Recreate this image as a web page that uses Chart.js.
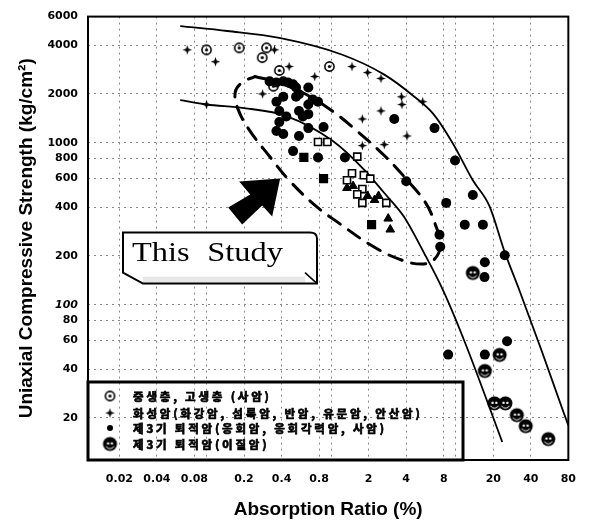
<!DOCTYPE html>
<html>
<head>
<meta charset="utf-8">
<script src="https://cdn.jsdelivr.net/npm/chart.js@4.4.1/dist/chart.umd.min.js"></script>
<style>
  html, body { margin: 0; padding: 0; background: #fff; }
  canvas { display: block; }
</style>
</head>
<body>
<canvas id="chart" width="589" height="521"></canvas>
<script>
// ---- axis ticks ----
const xTickValues = [0.02, 0.04, 0.08, 0.1, 0.2, 0.4, 0.8, 1, 2, 4, 8, 10, 20, 40, 80];
const xTickLabels = ['0.02', '0.04', '0.08', '', '0.2', '0.4', '0.8', '', '2', '4', '8', '', '20', '40', '80'];
const yTickValues = [20, 40, 60, 80, 100, 200, 400, 600, 800, 1000, 2000, 4000, 6000];

// ---- series names ----
const seriesNames = [
  '중생층, 고생층 (사암)',
  '화성암(화강암, 섬록암, 반암, 유문암, 안산암)',
  '제3기 퇴적암(응회암, 응회각력암, 사암)',
  '제3기 퇴적암(이질암)'
];

// 중생층, 고생층 (사암): absorption (%), strength (kg/cm2)
const mesoX = [0.100, 0.183, 0.303, 0.28, 0.384, 0.344, 0.968];
const mesoY = [3740, 3850, 3850, 3350, 2790, 2230, 2950];

// 화성암
const igneousX = [0.070, 0.118, 0.351, 0.46, 0.282, 0.100, 0.738, 1.47, 1.96, 2.51, 3.67, 3.7, 5.42, 2.51, 1.78, 4.06, 2.67, 1.78];
const igneousY = [3740, 3160, 3740, 2950, 2000, 1720, 2560, 2950, 2710, 2490, 1920, 1720, 1790, 1570, 1400, 1100, 973, 959];

// 제3기 퇴적암 (응회암, 응회각력암, 사암)
const tuffX = [0.321, 0.364, 0.413, 0.452, 0.495, 0.523, 0.656, 0.364, 0.413, 0.523, 0.552, 0.656, 0.711, 0.785,
               0.384, 0.437, 0.552, 0.593, 0.656, 0.384, 0.364, 0.413, 0.552, 0.656, 0.869, 0.495, 0.785, 1.29,
               3.21, 6.75, 9.86, 4.0, 13.7, 8.38, 11.8, 16.5, 7.4, 7.5, 24.7, 17.1, 17.0, 25.8, 8.69, 17.1];
const tuffY = [2390, 2350, 2390, 2350, 2290, 2190, 2190, 1790, 1920, 1920, 1990, 1720, 1850, 1790,
               1570, 1450, 1570, 1450, 1500, 1340, 1180, 1130, 1100, 1230, 1250, 887, 811, 811,
               1400, 1230, 776, 578, 475, 425, 312, 312, 270, 228, 202, 183, 148, 59.5, 49.2, 49.2];

// 제3기 퇴적암 (이질암)
const mudX = [13.7, 22.5, 17.1, 20.4, 25.0, 30.9, 36.4, 55.2];
const mudY = [157, 49, 39, 24.6, 24.6, 20.8, 17.8, 14.8];

// test specimens: open squares, triangles, solid squares
const openSqX = [0.785, 0.933, 1.62, 1.47, 1.83, 2.06, 1.34, 1.78, 1.62, 1.78, 2.77];
const openSqY = [1010, 1010, 820, 647, 630, 600, 586, 517, 480, 425, 425];
const triX = [1.34, 1.50, 1.96, 2.23, 2.40, 2.87, 2.98];
const triY = [525, 540, 469, 443, 469, 340, 291];
const solidSqX = [0.604, 0.869, 2.11];
const solidSqY = [811, 600, 312];

// envelope curves
const upperX = [0.0615, 0.147, 0.384, 1.23, 2.67, 4.6, 6.62, 9.5, 13.7, 18.6, 24.7, 32.1, 48.6, 73.8, 80];
const upperY = [5240, 4890, 4430, 3490, 2630, 1935, 1500, 986, 586, 407, 211, 125, 52.5, 21.3, 18];
const lowerX = [0.0615, 0.100, 0.200, 0.437, 1.02, 1.86, 2.67, 3.84, 5.52, 7.93, 12.0, 23.6];
const lowerY = [1830, 1720, 1635, 1460, 1030, 675, 489, 349, 211, 122, 57, 14.2];

// dashed outline of the study range (closed loop)
const zoneX = [0.244, 0.378, 0.627, 1.02, 1.64, 2.67, 3.98, 5.73, 6.86, 7.52, 6.75, 5.32, 3.51, 2.11, 1.14, 0.752, 0.46, 0.321, 0.223, 0.179, 0.170, 0.193, 0.244];
const zoneY = [2560, 2350, 1990, 1570, 1167, 833, 600, 425, 312, 235, 191, 178, 191, 232, 321, 407, 586, 822, 1183, 1611, 2046, 2350, 2560];

const studyLabel = 'This Study';

// ---- marker symbols ----
function makeSymbol(size, draw) {
  const c = document.createElement('canvas');
  c.width = size; c.height = size;
  const g = c.getContext('2d');
  g.translate(size / 2, size / 2);
  draw(g);
  return c;
}
const dotCircle = makeSymbol(13, g => {
  g.strokeStyle = '#000'; g.lineWidth = 1.6;
  g.beginPath(); g.arc(0, 0, 4.6, 0, Math.PI * 2); g.stroke();
  g.fillStyle = '#000';
  g.beginPath(); g.arc(0, 0, 1.6, 0, Math.PI * 2); g.fill();
});
const star4 = makeSymbol(11, g => {
  g.fillStyle = '#000';
  g.beginPath();
  for (let i = 0; i < 8; i++) {
    const ang = i * Math.PI / 4 - Math.PI / 2;
    const rad = i % 2 === 0 ? 4.8 : 1.7;
    g.lineTo(rad * Math.cos(ang), rad * Math.sin(ang));
  }
  g.closePath(); g.fill();
});
const faceCircle = makeSymbol(17, g => {
  g.fillStyle = '#000';
  g.beginPath(); g.arc(0, 0, 7, 0, Math.PI * 2); g.fill();
  g.strokeStyle = '#fff'; g.lineWidth = 1;
  g.beginPath(); g.arc(0, 0.3, 4.4, 0.15 * Math.PI, 0.85 * Math.PI); g.stroke();
  g.fillStyle = '#fff';
  g.beginPath(); g.arc(-1.9, -0.6, 1.2, 0, Math.PI * 2); g.fill();
  g.beginPath(); g.arc(1.9, -0.6, 1.2, 0, Math.PI * 2); g.fill();
});

const pts = (xs, ys) => xs.map((x, i) => ({ x, y: ys[i] }));

// ---- frame, legend box, label box and arrow ----
const overlay = {
  id: 'overlay',
  afterDatasetsDraw(chart) {
    const { ctx, chartArea: a, scales } = chart;
    const P = (px, py) => [a.left + px, a.top + py]; // offsets inside the plot area
    ctx.save();

    // plot frame
    ctx.strokeStyle = '#000';
    ctx.lineWidth = 2;
    ctx.strokeRect(a.left, a.top, a.right - a.left, a.bottom - a.top);

    // legend box
    const lgL = a.left, lgR = a.left + 375, lgT = a.bottom - 78, lgB = a.bottom;
    ctx.lineWidth = 3;
    ctx.strokeRect(lgL, lgT, lgR - lgL, lgB - lgT);
    const rows = [lgT + 14, lgT + 31, lgT + 46, lgT + 62];
    const symX = lgL + 22;
    ctx.drawImage(dotCircle, symX - 6.5, rows[0] - 6.5);
    ctx.drawImage(star4, symX - 5.5, rows[1] - 5.5);
    ctx.fillStyle = '#000';
    ctx.beginPath(); ctx.arc(symX, rows[2], 3, 0, Math.PI * 2); ctx.fill();
    ctx.drawImage(faceCircle, symX - 8.5, rows[3] - 8.5);
    ctx.font = 'bold 11.5px "Noto Sans CJK KR", sans-serif';
    ctx.textBaseline = 'middle';
    ctx.textAlign = 'left';
    ctx.strokeStyle = '#000';
    ctx.lineWidth = 0.7;
    if ('letterSpacing' in ctx) ctx.letterSpacing = '2.8px';
    seriesNames.forEach((t, i) => {
      ctx.fillText(t, lgL + 45, rows[i] + 1);
      ctx.strokeText(t, lgL + 45, rows[i] + 1);
    });
    if ('letterSpacing' in ctx) ctx.letterSpacing = '0px';

    // "This Study" label box
    const [bl, bt] = P(35, 216);
    const bw = 194, bh = 51;
    ctx.beginPath();
    ctx.moveTo(bl, bt);
    ctx.lineTo(bl + bw - 7, bt);
    ctx.quadraticCurveTo(bl + bw, bt, bl + bw, bt + 6);
    ctx.lineTo(bl + bw, bt + bh);
    ctx.lineTo(bl + 20, bt + bh);
    ctx.lineTo(bl, bt + bh - 11);
    ctx.closePath();
    ctx.fillStyle = '#fff';
    ctx.fill();
    ctx.fillStyle = 'rgba(150,150,150,0.22)';
    ctx.fillRect(bl + 20, bt + bh - 7, bw - 32, 6);
    ctx.lineWidth = 2;
    ctx.strokeStyle = '#000';
    ctx.stroke();
    ctx.lineWidth = 1.5;
    ctx.beginPath();
    ctx.moveTo(bl + bw - 12, bt + bh - 11);
    ctx.lineTo(bl + bw - 1, bt + bh - 1);
    ctx.stroke();

    ctx.save();
    ctx.fillStyle = '#000';
    ctx.font = '27px "Liberation Serif", "Times New Roman", serif';
    ctx.textBaseline = 'alphabetic';
    ctx.translate(bl + 9, bt + 28);
    ctx.scale(1.2, 1);
    if ('wordSpacing' in ctx) ctx.wordSpacing = '8px';
    ctx.fillText(studyLabel, 0, 0);
    ctx.restore();

    // arrow pointing at the study range
    const tipX = scales.x.getPixelForValue(0.39);
    const tipY = scales.y.getPixelForValue(600);
    const arrow = [[0, 0], [-41, 3], [-30, 16], [-52, 29], [-38, 46], [-18, 27], [-8, 38]];
    ctx.fillStyle = '#000';
    ctx.beginPath();
    arrow.forEach(([dx, dy], i) => (i ? ctx.lineTo : ctx.moveTo).call(ctx, tipX + dx, tipY + dy));
    ctx.closePath();
    ctx.fill();

    ctx.restore();
  }
};

const tickFont = { family: '"DejaVu Sans", sans-serif', size: 11, weight: 'bold' };

new Chart(document.getElementById('chart'), {
  type: 'scatter',
  data: {
    datasets: [
      { label: seriesNames[0], data: pts(mesoX, mesoY), pointStyle: dotCircle, pointRadius: 5, order: 1 },
      { label: seriesNames[1], data: pts(igneousX, igneousY), pointStyle: star4, pointRadius: 5, order: 2 },
      { label: seriesNames[2], data: pts(tuffX, tuffY), pointStyle: 'circle', pointRadius: 5,
        backgroundColor: '#000', borderColor: '#000', borderWidth: 0, order: 3 },
      { label: seriesNames[3], data: pts(mudX, mudY), pointStyle: faceCircle, pointRadius: 7, order: 0 },
      { label: 'open square', data: pts(openSqX, openSqY), pointStyle: 'rect', pointRadius: 5,
        backgroundColor: '#fff', borderColor: '#000', borderWidth: 1.6, order: 4 },
      { label: 'triangle', data: pts(triX, triY), pointStyle: 'triangle', pointRadius: 5,
        backgroundColor: '#000', borderColor: '#000', borderWidth: 1, order: 5 },
      { label: 'solid square', data: pts(solidSqX, solidSqY), pointStyle: 'rect', pointRadius: 6.5,
        backgroundColor: '#000', borderColor: '#000', borderWidth: 0, order: 5 },
      { label: 'upper envelope', data: pts(upperX, upperY), showLine: true, pointRadius: 0,
        borderColor: '#000', borderWidth: 1.8, cubicInterpolationMode: 'monotone', order: 9 },
      { label: 'lower envelope', data: pts(lowerX, lowerY), showLine: true, pointRadius: 0,
        borderColor: '#000', borderWidth: 1.8, cubicInterpolationMode: 'monotone', order: 9 },
      { label: 'study range', data: pts(zoneX, zoneY), showLine: true, pointRadius: 0,
        borderColor: '#000', borderWidth: 3, borderDash: [14, 10], borderCapStyle: 'round',
        tension: 0.4, order: 8 }
    ]
  },
  options: {
    responsive: false,
    animation: false,
    devicePixelRatio: 1,
    layout: { padding: { top: 11, right: 12, left: 0, bottom: 0 } },
    plugins: { legend: { display: false }, tooltip: { enabled: false } },
    scales: {
      x: {
        type: 'logarithmic',
        min: 0.0112,
        max: 80,
        afterFit: s => { s.height = 61; },
        afterBuildTicks: s => { s.ticks = xTickValues.map(v => ({ value: v })); },
        ticks: {
          autoSkip: false, maxRotation: 0, padding: 13, color: '#000', font: tickFont,
          callback: v => { const i = xTickValues.indexOf(v); return i >= 0 ? xTickLabels[i] : ''; }
        },
        grid: { color: '#8a8a8a', lineWidth: 1, drawTicks: false },
        border: { display: false, dash: [2, 4] },
        title: {
          display: true, text: 'Absorption Ratio (%)', color: '#000',
          font: { family: '"Liberation Sans", Arial, sans-serif', size: 19, weight: 'bold' },
          padding: { top: 0, bottom: 0 }
        }
      },
      y: {
        type: 'logarithmic',
        min: 11,
        max: 6000,
        afterFit: s => { s.width = 88; },
        afterBuildTicks: s => { s.ticks = yTickValues.map(v => ({ value: v })); },
        ticks: {
          autoSkip: false, padding: 10, color: '#000',
          font: c => Object.assign({}, tickFont, { style: (c.tick && c.tick.value === 100) ? 'italic' : 'normal' }),
          callback: v => String(v)
        },
        grid: { color: '#8a8a8a', lineWidth: 1, drawTicks: false },
        border: { display: false, dash: [2, 4] },
        title: {
          display: true, text: 'Uniaxial Compressive Strength (kg/cm²)', color: '#000',
          font: { family: '"Liberation Sans", Arial, sans-serif', size: 19, weight: 'bold' },
          padding: { top: 15, bottom: 0 }
        }
      }
    }
  },
  plugins: [overlay]
});
</script>
</body>
</html>
